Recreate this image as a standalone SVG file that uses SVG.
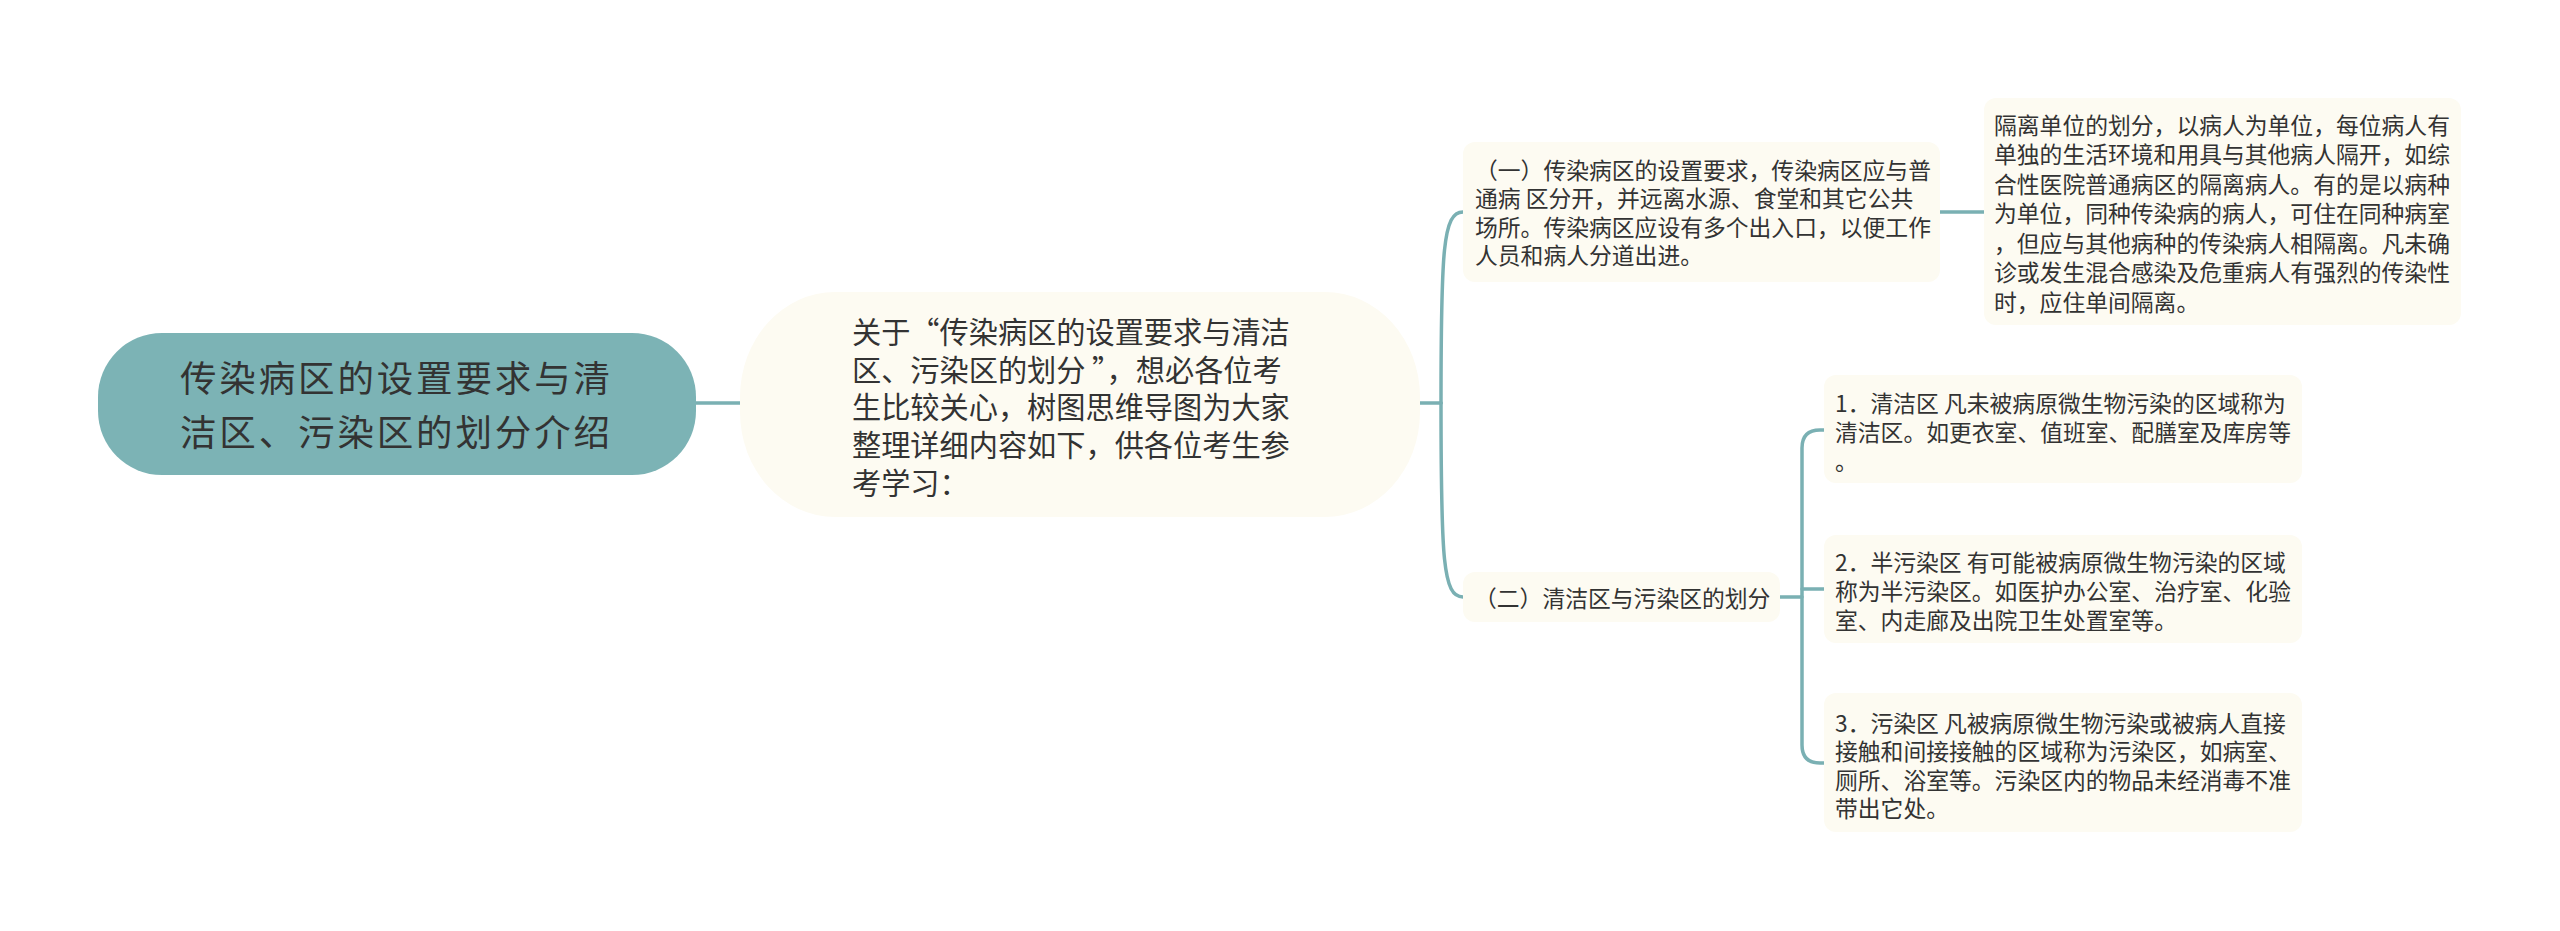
<svg xmlns="http://www.w3.org/2000/svg" width="2560" height="931" viewBox="0 0 2560 931">
<style>
.box{fill:#fdfbf2;}
.t{font-family:"Noto Sans CJK SC","Noto Sans",sans-serif;fill:#333333;}
.s{font-size:22.8px;}
.m{font-size:29.2px;}
.r{font-size:36.5px;}
.c{fill:none;stroke:#7ab0b3;stroke-width:3.5;stroke-linecap:round;}
</style>
<rect width="2560" height="931" fill="#ffffff"/>
<g id="connectors">
<path class="c" d="M696 403 L740 403"/>
<path class="c" d="M1420 403 L1441 403"/>
<path class="c" d="M1441 403 C1441 250 1443 212 1463 212"/>
<path class="c" d="M1441 403 C1441 560 1443 597 1463 597"/>
<path class="c" d="M1940 212 L1984 212"/>
<path class="c" d="M1780 597 L1802 597"/>
<path class="c" d="M1824 430 L1820 430 Q1802 430 1802 448 L1802 745 Q1802 763 1820 763 L1824 763"/>
<path class="c" d="M1802 589 L1824 589"/>
</g>
<g id="root">
<rect x="98" y="333" width="598" height="142" rx="64" ry="64" fill="#7cb3b5"/>
<text class="t r" x="180" y="391.5" textLength="430" lengthAdjust="spacing">传染病区的设置要求与清</text>
<text class="t r" x="180" y="445.5" textLength="430" lengthAdjust="spacing">洁区、污染区的划分介绍</text>
</g>
<g id="intro">
<rect class="box" x="740" y="292" width="680" height="225" rx="95" ry="105"/>
<text class="t m"><tspan x="852" y="342.8">关于“传染病区的设置要求与清洁</tspan><tspan x="852" y="380.6">区、污染区的划分 ”，想必各位考</tspan><tspan x="852" y="418.4">生比较关心，树图思维导图为大家</tspan><tspan x="852" y="456.2">整理详细内容如下，供各位考生参</tspan><tspan x="852" y="494">考学习：</tspan></text>
</g>
<g id="branch1">
<rect class="box" x="1463" y="142" width="477" height="140" rx="12"/>
<text class="t s"><tspan x="1475" y="178.5">（一）传染病区的设置要求，传染病区应与普</tspan><tspan x="1475" y="207">通病 区分开，并远离水源、食堂和其它公共</tspan><tspan x="1475" y="235.5">场所。传染病区应设有多个出入口，以便工作</tspan><tspan x="1475" y="264">人员和病人分道出进。</tspan></text>
</g>
<g id="isolation">
<rect class="box" x="1984" y="98" width="477" height="227" rx="12"/>
<text class="t s"><tspan x="1994" y="133.5">隔离单位的划分，以病人为单位，每位病人有</tspan><tspan x="1994" y="163">单独的生活环境和用具与其他病人隔开，如综</tspan><tspan x="1994" y="192.5">合性医院普通病区的隔离病人。有的是以病种</tspan><tspan x="1994" y="222">为单位，同种传染病的病人，可住在同种病室</tspan><tspan x="1994" y="251.5">，但应与其他病种的传染病人相隔离。凡未确</tspan><tspan x="1994" y="281">诊或发生混合感染及危重病人有强烈的传染性</tspan><tspan x="1994" y="310.5">时，应住单间隔离。</tspan></text>
</g>
<g id="branch2">
<rect class="box" x="1463" y="572" width="317" height="50" rx="12"/>
<text class="t s" x="1474" y="606.5">（二）清洁区与污染区的划分</text>
</g>
<g id="clean">
<rect class="box" x="1824" y="375" width="478" height="108" rx="12"/>
<text class="t s"><tspan x="1835" y="411.5">1．清洁区 凡未被病原微生物污染的区域称为</tspan><tspan x="1835" y="440.5">清洁区。如更衣室、值班室、配膳室及库房等</tspan><tspan x="1835" y="469.5">。</tspan></text>
</g>
<g id="semi">
<rect class="box" x="1824" y="535" width="478" height="108" rx="12"/>
<text class="t s"><tspan x="1835" y="570.5">2．半污染区 有可能被病原微生物污染的区域</tspan><tspan x="1835" y="599.5">称为半污染区。如医护办公室、治疗室、化验</tspan><tspan x="1835" y="628.5">室、内走廊及出院卫生处置室等。</tspan></text>
</g>
<g id="dirty">
<rect class="box" x="1824" y="693" width="478" height="139" rx="12"/>
<text class="t s"><tspan x="1835" y="731.5">3．污染区 凡被病原微生物污染或被病人直接</tspan><tspan x="1835" y="760">接触和间接接触的区域称为污染区，如病室、</tspan><tspan x="1835" y="788.5">厕所、浴室等。污染区内的物品未经消毒不准</tspan><tspan x="1835" y="817">带出它处。</tspan></text>
</g>
</svg>
